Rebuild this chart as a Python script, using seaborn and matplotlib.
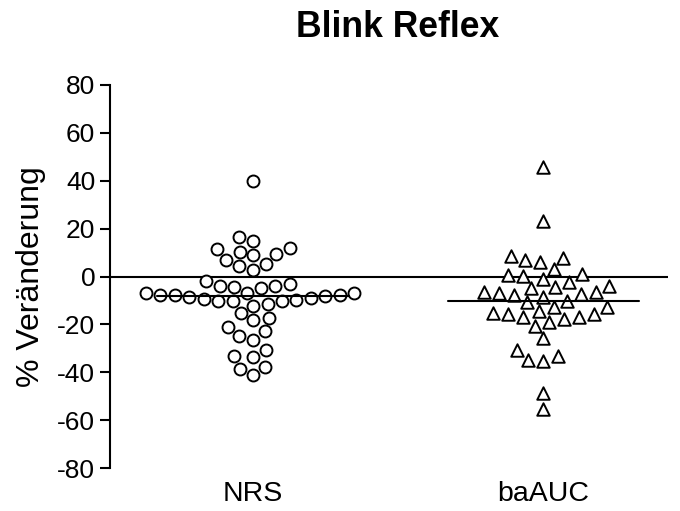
import numpy as np
import pandas as pd
import matplotlib
matplotlib.use("Agg")
import matplotlib.pyplot as plt
import seaborn as sns

categories = ["NRS", "baAUC"]

nrs_values = [40.0, 16.4, 14.8, 11.3, 9.4, 8.9, 10.1, 11.7, 5.1, 2.7, 6.8, 4.3,
              -1.9, -3.8, -4.5, -4.8, -4.1, -3.0,
              -7.0, -7.0, -7.6, -8.1, -9.1, -9.8, -9.3, -8.4, -7.6, -7.6, -7.0,
              -10.4, -11.3, -12.3, -10.4, -10.4,
              -15.2, -17.4, -18.3, -20.9, -24.7, -22.9, -26.4, -30.6, -33.3,
              -33.7, -37.6, -38.5, -41.0]

baauc_values = [45.9, 23.3, 7.9, 6.0, 7.0, 8.4, 3.2, 1.1, -1.0, -2.4, 0.3, 0.8,
                -4.5, -6.6, -7.0, -7.6, -10.1, -8.4, -7.3, -6.6, -4.8, -3.9,
                -10.8, -12.9, -15.5, -15.5, -16.9, -18.9, -17.8, -16.9, -20.7,
                -15.2, -14.3, -12.7,
                -25.6, -30.5, -34.7, -35.1, -33.3, -48.8, -55.4]

yticks = [-80, -60, -40, -20, 0, 20, 40, 60, 80]
title = "Blink Reflex"
ylabel = "% Veränderung"

df = pd.DataFrame({
    "group": ["NRS"] * len(nrs_values) + ["baAUC"] * len(baauc_values),
    "value": nrs_values + baauc_values,
})

sns.set_style("white")
plt.rcParams["font.family"] = ["Liberation Sans", "DejaVu Sans"]
plt.rcParams["text.color"] = "black"
plt.rcParams["axes.labelcolor"] = "black"
plt.rcParams["xtick.color"] = "black"
plt.rcParams["ytick.color"] = "black"

fig = plt.figure(figsize=(6.8, 5.11), dpi=100)
ax = fig.add_axes([0.162, 0.0841, 0.821, 0.7496])

markers = {"NRS": "o", "baAUC": "^"}
sizes = {"NRS": 8.6, "baAUC": 9.0}
for cat in categories:
    sub = df[df["group"] == cat]
    sns.swarmplot(data=sub, x="group", y="value", order=categories, ax=ax,
                  marker=markers[cat], size=sizes[cat], color="white",
                  edgecolor="black", linewidth=1.4)

# mean lines
for i, cat in enumerate(categories):
    m = df.loc[df["group"] == cat, "value"].mean()
    ax.plot([i - 0.33, i + 0.33], [m, m], color="black", lw=1.5, zorder=5)

ax.axhline(0, color="black", lw=1.5, zorder=1)

ax.set_ylim(-80, 80)
ax.set_xlim(-0.493, 1.431)
ax.set_yticks(yticks)
ax.set_yticklabels([str(t) for t in yticks])
ax.tick_params(axis="y", direction="out", length=7.2, width=1.5, labelsize=19,
               pad=3.6, left=True, colors="black")
ax.tick_params(axis="x", length=0, labelsize=20.5, pad=9, colors="black")
ax.set_xlabel("")
ax.set_ylabel(ylabel, fontsize=23, labelpad=8, color="black")
for s in ["top", "right", "bottom"]:
    ax.spines[s].set_visible(False)
ax.spines["left"].set_linewidth(1.5)
ax.spines["left"].set_color("black")

fig.text(0.585, 0.947, title, ha="center", va="center", fontsize=25.6,
         fontweight="bold", color="black")

fig.savefig("out.png", dpi=100)
